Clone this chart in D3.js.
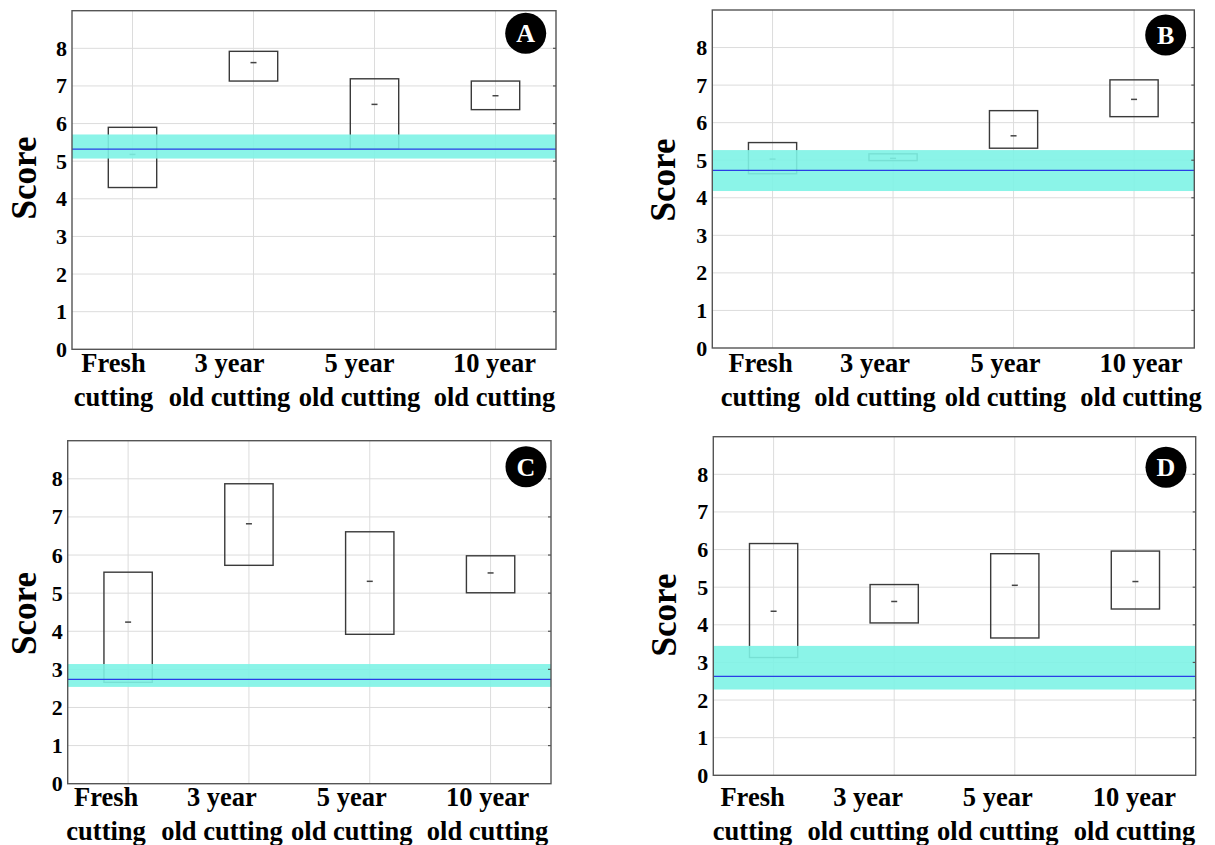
<!DOCTYPE html>
<html>
<head>
<meta charset="utf-8">
<script src="https://cdn.jsdelivr.net/npm/d3@7"></script>
<style>
  html, body { margin: 0; padding: 0; background: #fff; }
  svg { display: block; }
  text { font-family: "Liberation Serif", "Times New Roman", serif; font-weight: bold; fill: #000; }
</style>
</head>
<body>
<svg id="chart" width="1215" height="845"></svg>
<script>
// ---------------- data ----------------
const categories = ["Fresh cutting", "3 year old cutting", "5 year old cutting", "10 year old cutting"];
const labelLines = [["Fresh", "cutting"], ["3 year", "old cutting"], ["5 year", "old cutting"], ["10 year", "old cutting"]];
const yTicks = [0, 1, 2, 3, 4, 5, 6, 7, 8];
const panelIds = ["A", "B", "C", "D"];
const yLabel = "Score";

// box upper edge, lower edge, centre mark per category
const highA = [5.90, 7.92, 7.19, 7.13];
const lowA  = [4.30, 7.13, 5.32, 6.37];
const midA  = [5.18, 7.62, 6.51, 6.74];
const bandA = [5.07, 5.71];   // reference band (lower, upper)
const refA  = 5.32;           // reference line

const highB = [5.47, 5.17, 6.32, 7.14];
const lowB  = [4.64, 4.99, 5.32, 6.16];
const midB  = [5.03, 5.05, 5.65, 6.62];
const bandB = [4.18, 5.27];
const refB  = 4.73;

const highC = [5.55, 7.87, 6.61, 5.98];
const lowC  = [2.66, 5.73, 3.92, 5.01];
const midC  = [4.24, 6.82, 5.31, 5.53];
const bandC = [2.54, 3.14];
const refC  = 2.74;

const highD = [6.16, 5.07, 5.89, 5.96];
const lowD  = [3.13, 4.05, 3.65, 4.42];
const midD  = [4.36, 4.62, 5.05, 5.15];
const bandD = [2.28, 3.44];
const refD  = 2.63;

const seriesByPanel = {
  A: {high: highA, low: lowA, mid: midA, band: bandA, ref: refA},
  B: {high: highB, low: lowB, mid: midB, band: bandB, ref: refB},
  C: {high: highC, low: lowC, mid: midC, band: bandC, ref: refC},
  D: {high: highD, low: lowD, mid: midD, band: bandD, ref: refD}
};

// ---------------- layout ----------------
const layout = {
  A: {left: 72,    right: 556,    top: 10.7,  bottom: 349.3, line1: 371.7, line2: 405.7, labelDx: [-19, -24, -15, -1], scoreX: 36,  scoreY: 178,   badge: [525.7, 33.3]},
  B: {left: 712.3, right: 1194.3, top: 10,    bottom: 348,   line1: 371.7, line2: 405.7, labelDx: [-12, -18, -8, 7],   scoreX: 675, scoreY: 180,   badge: [1165.7, 35]},
  C: {left: 67.7,  right: 551,    top: 440.7, bottom: 783.7, line1: 806,   line2: 840,   labelDx: [-22, -27, -18, -3], scoreX: 36,  scoreY: 613.5, badge: [526, 466.7]},
  D: {left: 713.3, right: 1195.7, top: 436.7, bottom: 775.3, line1: 806,   line2: 840,   labelDx: [-21, -26, -17, -1], scoreX: 676, scoreY: 615,   badge: [1166, 467.3]}
};
const boxWidthUnits = 0.4;

const svg = d3.select("#chart");

panelIds.forEach(id => {
  const L = layout[id];
  const S = seriesByPanel[id];
  const x = d3.scaleLinear().domain([0.5, 4.5]).range([L.left, L.right]);
  const y = d3.scaleLinear().domain([0, 9]).range([L.bottom, L.top]);
  const g = svg.append("g");
  const xs = categories.map((c, i) => x(i + 1));

  // grid
  g.selectAll(".hgrid").data(yTicks.filter(t => t > 0)).join("line")
    .attr("x1", L.left).attr("x2", L.right)
    .attr("y1", d => y(d)).attr("y2", d => y(d))
    .attr("stroke", "#dcdcdc").attr("stroke-width", 1);
  g.selectAll(".vgrid").data(categories).join("line")
    .attr("x1", (d, i) => x(i + 1)).attr("x2", (d, i) => x(i + 1))
    .attr("y1", L.top).attr("y2", L.bottom)
    .attr("stroke", "#dcdcdc").attr("stroke-width", 1);

  // boxes
  const half = (x(1 + boxWidthUnits / 2) - x(1));
  g.selectAll(".box").data(categories).join("rect")
    .attr("x", (d, i) => x(i + 1) - half)
    .attr("width", 2 * half)
    .attr("y", (d, i) => y(S.high[i]))
    .attr("height", (d, i) => y(S.low[i]) - y(S.high[i]))
    .attr("fill", "none").attr("stroke", "#3a3a3a").attr("stroke-width", 1.4);
  g.selectAll(".mid").data(categories).join("line")
    .attr("x1", (d, i) => x(i + 1) - 3).attr("x2", (d, i) => x(i + 1) + 3)
    .attr("y1", (d, i) => y(S.mid[i])).attr("y2", (d, i) => y(S.mid[i]))
    .attr("stroke", "#444").attr("stroke-width", 1.5);

  // reference band and line
  g.append("rect")
    .attr("x", L.left).attr("width", L.right - L.left)
    .attr("y", y(S.band[1])).attr("height", y(S.band[0]) - y(S.band[1]))
    .attr("fill", "#7ef3e5").attr("fill-opacity", 0.9);
  g.append("line")
    .attr("x1", L.left).attr("x2", L.right)
    .attr("y1", y(S.ref)).attr("y2", y(S.ref))
    .attr("stroke", "#2a3ee6").attr("stroke-width", 1.3);

  // frame
  g.append("rect")
    .attr("x", L.left).attr("y", L.top)
    .attr("width", L.right - L.left).attr("height", L.bottom - L.top)
    .attr("fill", "none").attr("stroke", "#555").attr("stroke-width", 1.4);
  // right-side minor ticks
  g.selectAll(".rtick").data(yTicks.filter(t => t > 0)).join("line")
    .attr("x1", L.right - 3).attr("x2", L.right)
    .attr("y1", d => y(d)).attr("y2", d => y(d))
    .attr("stroke", "#555").attr("stroke-width", 1.2);

  // y axis labels
  const yAxis = d3.axisLeft(y).tickValues(yTicks).tickSize(0).tickPadding(5).tickFormat(d3.format("d"));
  const ya = g.append("g").attr("transform", `translate(${L.left},0)`).call(yAxis);
  ya.attr("font-size", null).attr("font-family", null);
  ya.select(".domain").remove();
  ya.selectAll("text")
    .style("font-family", '"Liberation Serif", "Times New Roman", serif')
    .style("font-weight", "bold").style("font-size", "22px").attr("fill", "#000");

  // x labels
  labelLines.forEach((lines, i) => {
    const t = g.append("text")
      .attr("text-anchor", "middle")
      .style("font-size", "26.5px");
    t.append("tspan").attr("x", xs[i] + L.labelDx[i]).attr("y", L.line1).text(lines[0]);
    t.append("tspan").attr("x", xs[i] + L.labelDx[i]).attr("y", L.line2).text(lines[1]);
  });

  // y title
  g.append("text")
    .attr("transform", `translate(${L.scoreX},${L.scoreY}) rotate(-90)`)
    .attr("text-anchor", "middle")
    .style("font-size", "35px")
    .text(yLabel);

  // panel badge
  g.append("circle").attr("cx", L.badge[0]).attr("cy", L.badge[1]).attr("r", 20.5).attr("fill", "#000");
  g.append("text")
    .attr("x", L.badge[0]).attr("y", L.badge[1])
    .attr("dy", "0.34em")
    .attr("text-anchor", "middle")
    .style("font-size", "26px")
    .style("fill", "#fff")
    .text(id);
});
</script>
</body>
</html>
